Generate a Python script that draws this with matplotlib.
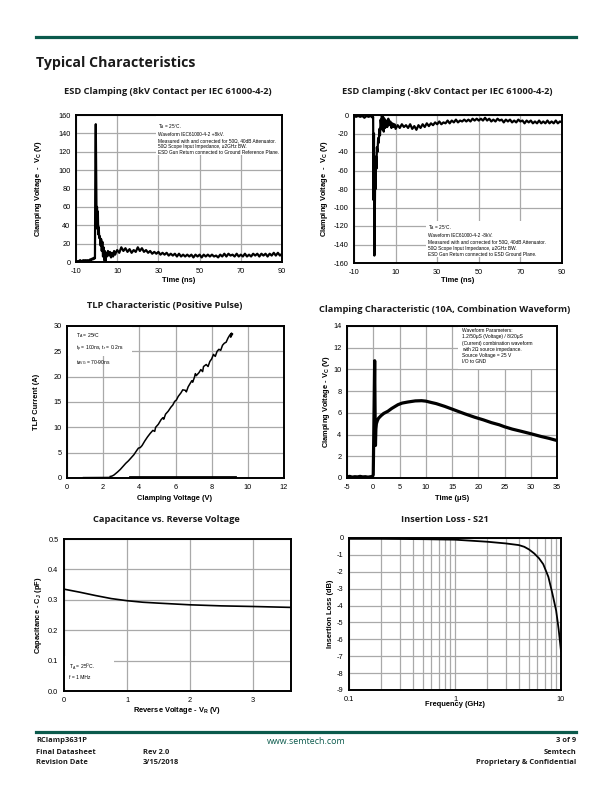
import matplotlib
matplotlib.use("Agg")
import matplotlib.pyplot as plt

W, H = 612, 792
TEAL = "#0b5a4c"
GRID = "#a9a9a9"
TF = "Open Sans"
AF = "Liberation Sans"

plt.rcParams["font.family"] = [AF, "DejaVu Sans"]
plt.rcParams["axes.unicode_minus"] = False
plt.rcParams["mathtext.fontset"] = "custom"
plt.rcParams["mathtext.rm"] = AF

fig = plt.figure(figsize=(6.12, 7.92), dpi=100)

# ---------------- data ----------------
t1 = [-10, -9.5, -9, -8.5, -8, -7.5, -7, -6.5, -6, -5.5, -5, -4.5, -4, -3.5, -3, -2.5, -2, -1.5, -1, -0.8,
      -0.6, -0.4, -0.2, 0, 0.2, 0.4, 0.6, 0.8, 1.0, 1.3, 1.6, 1.9, 2.2, 2.5, 2.8, 3.1, 3.4, 3.7, 4.0, 4.3, 4.6,
      5.0, 5.5, 6.0, 6.5, 7.0, 7.5, 8.0, 8.5, 9.0, 9.5,
      10, 11, 12, 13, 14, 15, 16, 17, 18, 19, 20, 21, 22, 23, 24, 25, 26, 27, 28, 29, 30, 31, 32, 33, 34,
      35, 36, 37, 38, 39, 40, 41, 42, 43, 44, 45, 46, 47, 48, 49, 50, 51, 52, 53, 54, 55, 56, 57, 58, 59,
      60, 61, 62, 63, 64, 65, 66, 67, 68, 69, 70, 71, 72, 73, 74, 75, 76, 77, 78, 79, 80, 81, 82, 83, 84,
      85, 86, 87, 88, 89, 90]
v1 = [1, 0, 1, 1, 2, 1, 1, 2, 1, 2, 1, 2, 1, 2, 3, 2, 4, 3, 5, 4,
      110, 150, 95, 42, 60, 36, 55, 30, 38, 26, 28, 18, 25, 12, 22, 6, 16, 2, 12, 0, 10,
      6, 12, 7, 11, 5, 10, 6, 12, 8, 11,
      13, 10, 16, 12, 15, 11, 14, 10, 13, 11, 16, 12, 15, 11, 13, 10, 12, 9, 11, 9, 11, 8, 10, 8, 10,
      7, 9, 7, 9, 6, 9, 6, 8, 6, 8, 6, 8, 5, 8, 6, 8, 5, 8, 6, 8, 6, 8, 6, 7, 5,
      8, 6, 9, 6, 9, 7, 8, 6, 9, 6, 8, 6, 9, 6, 8, 6, 9, 7, 9, 6, 9, 7, 9, 6, 9,
      7, 10, 7, 10, 7, 9]

t2 = [-10, -9, -8, -7, -6, -5, -4, -3, -2, -1, -0.8,
      -0.6, -0.4, -0.2, 0, 0.2, 0.4, 0.6, 0.8, 1.0, 1.3, 1.6, 1.9, 2.2, 2.5, 2.8, 3.1, 3.4, 3.7, 4.0, 4.3,
      4.6, 5.0, 5.5, 6.0, 6.5, 7.0, 7.5, 8.0, 8.5, 9.0, 9.5,
      10, 11, 12, 13, 14, 15, 16, 17, 18, 19, 20, 21, 22, 23, 24, 25, 26, 27, 28, 29, 30, 31, 32, 33, 34,
      35, 36, 37, 38, 39, 40, 41, 42, 43, 44, 45, 46, 47, 48, 49, 50, 51, 52, 53, 54, 55, 56, 57, 58, 59,
      60, 61, 62, 63, 64, 65, 66, 67, 68, 69, 70, 71, 72, 73, 74, 75, 76, 77, 78, 79, 80, 81, 82, 83, 84,
      85, 86, 87, 88, 89, 90]
v2 = [-1, -2, -1, -2, -1, -3, -1, -2, -1, -3, -2,
      -92, -20, -152, -110, -57, -80, -45, -58, -35, -40, -25, -30, -15, -22, -5, -12, 0, -16, -2, -18,
      -4, -14, -6, -13, -4, -11, -7, -14, -9, -13, -10,
      -15, -11, -14, -10, -13, -11, -14, -10, -15, -12, -16, -11, -14, -10, -13, -9, -12, -9, -11, -8,
      -10, -7, -10, -8, -9, -6, -9, -6, -8, -5, -8, -6, -7, -5, -7, -5, -7, -4, -6, -4, -6, -4, -6, -3,
      -6, -4, -7, -5, -7, -4, -6, -5, -8, -5, -7, -5, -8, -6, -8, -5, -7, -6, -9, -6, -8, -6, -9, -7,
      -9, -6, -9, -7, -9, -6, -9, -7, -9, -6, -9, -7, -8]

v3 = [2.39, 2.5, 2.6, 2.7, 2.8, 2.95, 3.1, 3.25, 3.4, 3.55, 3.7, 3.85, 3.95, 4.05, 4.15, 4.3, 4.45,
      4.6, 4.75, 4.85, 4.9, 5.05, 5.2, 5.3, 5.35, 5.45, 5.6, 5.75, 5.85, 5.95, 6.05, 6.15, 6.3, 6.4,
      6.55, 6.6, 6.7, 6.8, 6.9, 6.95, 7.05, 7.1, 7.15, 7.3, 7.4, 7.5, 7.55, 7.7, 7.8, 7.9, 8.0, 8.1,
      8.2, 8.3, 8.4, 8.5, 8.6, 8.7, 8.8, 8.9, 9.0, 9.1, 9.05, 9.15]
i3 = [0.3, 0.4, 0.6, 0.9, 1.2, 1.7, 2.3, 2.9, 3.4, 4.0, 4.6, 5.4, 5.9, 6.0, 6.4, 7.3, 8.1,
      8.8, 9.4, 9.2, 10.0, 10.6, 11.5, 11.9, 11.6, 12.6, 13.2, 14.0, 14.4, 15.1, 15.4, 16.1, 16.8, 17.4,
      17.3, 17.0, 18.0, 18.6, 19.2, 18.9, 19.9, 20.6, 20.2, 20.8, 21.4, 21.0, 22.0, 22.4, 22.0, 23.0, 23.5,
      24.4, 24.0, 25.0, 25.4, 25.2, 26.2, 26.6, 26.8, 27.6, 28.2, 28.6, 27.8, 28.4]
leak_v_thin = [0.9, 2.4]
leak_i_thin = [0.12, 0.15]
leak_v_thick = [3.5, 9.3]
leak_i_thick = [0.22, 0.22]

t4 = [-5, -4.5, -4, -3.5, -3, -2.5, -2, -1.5, -1, -0.5, -0.2, 0, 0.15, 0.27, 0.35, 0.42, 0.5, 0.6, 0.8,
      1.0, 1.5, 2, 2.8, 3.5, 4.7, 5.5, 6.6, 8, 9.2, 10, 11.1, 12, 13.6, 15, 16.1, 17.5, 19.3, 21, 22.5,
      24, 25, 26.5, 28.2, 30, 32, 33.5, 35]
v4 = [0.1, 0.15, 0.08, 0.12, 0.1, 0.15, 0.1, 0.12, 0.08, 0.12, 0.1, 0.3, 6, 10.8, 6, 3.0, 4.5, 5.0, 5.3,
      5.5, 5.75, 5.95, 6.15, 6.4, 6.75, 6.9, 7.0, 7.1, 7.12, 7.08, 6.95, 6.85, 6.6, 6.35, 6.15, 5.9, 5.6,
      5.35, 5.1, 4.9, 4.72, 4.5, 4.3, 4.08, 3.82, 3.65, 3.45]

v5 = [0, 0.25, 0.5, 0.75, 1.0, 1.25, 1.5, 2.0, 2.5, 3.0, 3.6]
c5 = [0.335, 0.325, 0.314, 0.304, 0.297, 0.292, 0.289, 0.2835, 0.280, 0.278, 0.275]

f6 = [0.1, 0.2, 0.5, 1, 2, 3, 4, 4.5, 5, 5.6, 6.2, 6.8, 7.6, 8.3, 9.0, 9.5, 10]
il6 = [-0.05, -0.05, -0.07, -0.1, -0.22, -0.32, -0.42, -0.52, -0.68, -0.92, -1.2, -1.55, -2.3, -3.3,
       -4.3, -5.4, -6.7]

titles = ["ESD Clamping (8kV Contact per IEC 61000-4-2)",
          "ESD Clamping (-8kV Contact per IEC 61000-4-2)",
          "TLP Characteristic (Positive Pulse)",
          "Clamping Characteristic (10A, Combination Waveform)",
          "Capacitance vs. Reverse Voltage",
          "Insertion Loss - S21"]


# ---------------- helpers ----------------
def px_ax(l, t, r, b):
    return fig.add_axes([l / W, 1 - b / H, (r - l) / W, (b - t) / H])


def ftext(x, y, s, **kw):
    return fig.text(x / W, 1 - y / H, s, **kw)


def style(ax):
    for sp in ax.spines.values():
        sp.set_linewidth(1.4)
        sp.set_color("black")
    ax.grid(True, which="major", color=GRID, lw=0.9)
    ax.set_axisbelow(True)
    ax.tick_params(length=0, labelsize=5.3, pad=4)


def boxtext(ax, x, y, lines, fs=3.4, ls=1.3):
    ax.text(x, y, "\n".join(lines), transform=ax.transAxes, ha="left", va="top", fontsize=fs,
            linespacing=ls, zorder=5)


def whitebox(ax, x0, y0, x1, y1):
    ax.add_patch(plt.Rectangle((x0, y0), x1 - x0, y1 - y0, transform=ax.transAxes,
                               facecolor="white", edgecolor="none", zorder=1.5))


# ---------------- header / footer ----------------
fig.add_artist(plt.Line2D([36 / W, 576 / W], [1 - 37 / H, 1 - 37 / H], color=TEAL, lw=2.3))
ftext(36, 63, "Typical Characteristics", family=TF, weight="bold", fontsize=10.2, va="center", color="#1a1a1a")

fig.add_artist(plt.Line2D([36 / W, 576 / W], [1 - 732 / H, 1 - 732 / H], color=TEAL, lw=2.3))
ff = dict(family=TF, weight="bold", fontsize=5.4, va="center", color="#1a1a1a")
ftext(36, 741, "RClamp3631P", **ff)
ftext(36, 752, "Final Datasheet", **ff)
ftext(36, 763, "Revision Date", **ff)
ftext(143, 752, "Rev 2.0", **ff)
ftext(143, 763, "3/15/2018", **ff)
ftext(306, 741, "www.semtech.com", family=TF, fontsize=6.4, va="center", ha="center", color=TEAL)
ftext(576, 741, "3 of 9", ha="right", **ff)
ftext(576, 752, "Semtech", ha="right", **ff)
ftext(576, 763, "Proprietary & Confidential", ha="right", **ff)

tk = dict(family=TF, weight="bold", fontsize=6.7, ha="center", va="center", color="#1a1a1a")
lk = dict(weight="bold", fontsize=5.4, ha="center", va="center")

# ---------------- chart 1 ----------------
ax = px_ax(76, 115, 282, 262)
ax.plot(t1, v1, color="black", lw=1.6, zorder=3)
ax.set_xlim(-10, 90)
ax.set_ylim(0, 160)
ax.set_xticks([-10, 10, 30, 50, 70, 90])
ax.set_yticks(range(0, 161, 20))
style(ax)
whitebox(ax, 0.39, 0.73, 0.995, 0.99)
boxtext(ax, 0.40, 0.955, ["T$_\\mathregular{A}$ = 25°C.",
                         "Waveform IEC61000-4-2 +8kV.",
                         "Measured with and corrected for 50Ω, 40dB Attenuator.",
                         "50Ω Scope Input Impedance, ≥2GHz BW.",
                         "ESD Gun Return connected to Ground Reference Plane."])
ftext(168, 92, titles[0], **tk)
ftext(179, 280, "Time (ns)", **lk)
ftext(38, 188, "Clamping Voltage  -  V$_\\mathregular{C}$ (V)", rotation=90, **lk)

# ---------------- chart 2 ----------------
ax = px_ax(354, 115, 562, 263)
ax.plot(t2, v2, color="black", lw=1.6, zorder=3)
ax.set_xlim(-10, 90)
ax.set_ylim(-160, 0)
ax.set_xticks([-10, 10, 30, 50, 70, 90])
ax.set_yticks(range(-160, 1, 20))
style(ax)
whitebox(ax, 0.345, 0.04, 0.995, 0.285)
boxtext(ax, 0.356, 0.27, ["T$_\\mathregular{A}$ = 25°C.",
                         "Waveform IEC61000-4-2 -8kV.",
                         "Measured with and corrected for 50Ω, 40dB Attenuator.",
                         "50Ω Scope Input Impedance, ≥2GHz BW.",
                         "ESD Gun Return connected to ESD Ground Plane."], fs=3.45)
ftext(447, 91, titles[1], **tk)
ftext(458, 280, "Time (ns)", **lk)
ftext(325, 188, "Clamping Voltage  -  V$_\\mathregular{C}$ (V)", rotation=90, **lk)

# ---------------- chart 3 ----------------
ax = px_ax(67, 326, 284, 478)
ax.plot(leak_v_thin, leak_i_thin, color="black", lw=0.8, zorder=3)
ax.plot(leak_v_thick, leak_i_thick, color="black", lw=2.0, zorder=3)
ax.plot(v3, i3, color="black", lw=1.1, zorder=3)
ax.set_xlim(0, 12)
ax.set_ylim(0, 30)
ax.set_xticks(range(0, 13, 2))
ax.set_yticks(range(0, 31, 5))
style(ax)
whitebox(ax, 0.005, 0.80, 0.30, 0.995)
boxtext(ax, 0.04, 0.965, ["T$_\\mathregular{A}$ = 25ºC",
                         "t$_\\mathregular{p}$ = 100ns, t$_\\mathregular{r}$ = 0.2ns",
                         "t$_\\mathregular{AVG}$ = 70-90ns"], fs=3.6, ls=1.6)
ftext(165, 305, titles[2], **tk)
ftext(175, 498, "Clamping Voltage (V)", **lk)
ftext(37, 402, "TLP Current (A)", rotation=90, **lk)

# ---------------- chart 4 ----------------
ax = px_ax(347, 326, 557, 478)
ax.plot(t4, v4, color="black", lw=2.3, zorder=3)
ax.set_xlim(-5, 35)
ax.set_ylim(0, 14)
ax.set_xticks(range(-5, 36, 5))
ax.set_yticks(range(0, 15, 2))
style(ax)
whitebox(ax, 0.53, 0.72, 0.995, 0.995)
boxtext(ax, 0.546, 0.985, ["Waveform Parameters:",
                          "1.2/50μS (Voltage) / 8/20μS",
                          "(Current) combination waveform",
                          "with 2Ω source impedance.",
                          "Source Voltage = 25 V",
                          "I/O to GND"], fs=3.5, ls=1.3)
ftext(445, 309, titles[3], **tk)
ftext(452, 498, "Time (μS)", **lk)
ftext(327, 402, "Clamping Voltage - V$_\\mathregular{C}$ (V)", rotation=90, **lk)

# ---------------- chart 5 ----------------
ax = px_ax(64, 539, 291, 691)
ax.plot(v5, c5, color="black", lw=1.2, zorder=3)
ax.set_xlim(0, 3.6)
ax.set_ylim(0, 0.5)
ax.set_xticks([0, 1, 2, 3])
ax.set_yticks([0.0, 0.1, 0.2, 0.3, 0.4, 0.5])
ax.set_yticklabels(["0.0", "0.1", "0.2", "0.3", "0.4", "0.5"])
style(ax)
whitebox(ax, 0.005, 0.02, 0.22, 0.23)
boxtext(ax, 0.024, 0.19, ["T$_\\mathregular{A}$ = 25$^\\mathregular{O}$C.", "f = 1 MHz"], fs=3.6, ls=1.6)
ftext(166, 520, titles[4], **tk)
ftext(177, 711, "Reverse Voltage - V$_\\mathregular{R}$ (V)", **lk)
ftext(38, 615, "Capacitance - C$_\\mathregular{J}$ (pF)", rotation=90, **lk)

# ---------------- chart 6 ----------------
ax = px_ax(349, 538, 561, 690)
ax.plot(f6, il6, color="black", lw=1.3, zorder=3)
ax.set_xscale("log")
ax.set_xlim(0.1, 10)
ax.set_ylim(-9, 0)
ax.set_xticks([0.1, 1, 10])
ax.set_xticklabels(["0.1", "1", "10"])
ax.set_yticks(range(-9, 1))
style(ax)
ax.grid(True, which="minor", axis="x", color=GRID, lw=0.9)
ax.tick_params(which="minor", length=0)
ftext(445, 519, titles[5], **tk)
ftext(455, 705, "Frequency (GHz)", **lk)
ftext(331, 614, "Insertion Loss (dB)", rotation=90, **lk)

fig.savefig("out.png", dpi=100)
